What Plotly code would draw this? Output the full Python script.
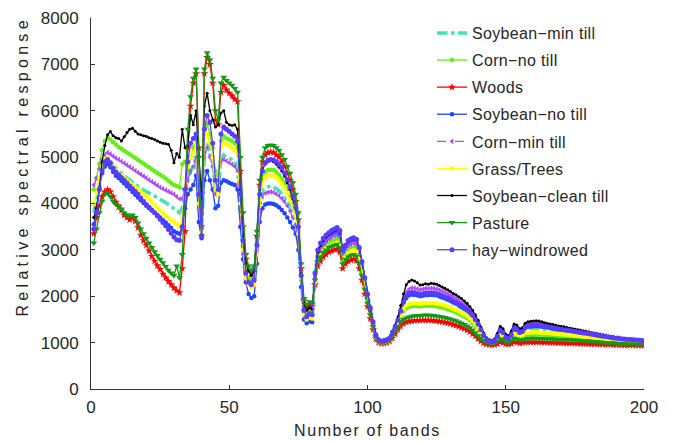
import plotly.graph_objects as go

bands = list(range(1, 201))

soybean_clean_till = [
3700,3900,4300,4900,5250,5480,5550,5460,5420,5400,
5350,5440,5530,5600,5620,5560,5500,5480,5460,5450,
5420,5400,5380,5350,5320,5300,5290,5280,5150,4880,
5080,5000,5600,5200,5250,5900,5700,6000,5000,4100,
6100,6380,6000,5800,5650,5700,5950,6000,5750,5700,
5680,5700,5600,4300,3300,2700,2550,2450,2550,3300,
4300,4750,4850,4900,4920,4900,4850,4780,4700,4600,
4450,4300,4100,3900,3500,2500,1850,1700,1750,1720,
2450,2950,3100,3200,3280,3330,3380,3420,3450,3400,
3000,3100,3200,3250,3270,3240,3050,2750,2400,2050,
1750,1450,1180,1080,1050,1060,1080,1120,1250,1380,
1550,1800,2050,2250,2320,2350,2330,2290,2240,2250,
2270,2260,2280,2270,2260,2230,2200,2170,2140,2100,
2060,2030,1990,1950,1900,1850,1780,1700,1600,1480,
1330,1200,1100,1060,1050,1080,1200,1350,1300,1180,
1150,1250,1400,1380,1300,1320,1420,1450,1460,1465,
1470,1465,1450,1430,1410,1400,1390,1375,1360,1350,
1340,1325,1310,1300,1290,1280,1265,1250,1240,1230,
1215,1200,1190,1175,1165,1155,1140,1130,1120,1110,
1100,1090,1085,1075,1070,1065,1060,1055,1050,1045]

pasture = [
3150,3450,3800,4050,4200,4230,4150,4050,3980,3950,
3880,3800,3760,3720,3750,3700,3580,3450,3350,3250,
3150,3050,2960,2880,2800,2720,2640,2560,2500,2450,
2650,2400,2900,4300,5600,6300,6700,6900,5000,3300,
6900,7250,7100,6700,6000,5800,6600,6720,6650,6600,
6550,6480,6400,5000,3800,2900,2650,2550,2650,3400,
4500,5000,5200,5250,5260,5250,5200,5150,5050,4950,
4800,4650,4450,4200,3800,2700,1950,1820,1880,1850,
2350,2750,2850,2950,3000,3050,3080,3100,3120,3050,
2700,2800,2850,2880,2900,2870,2700,2450,2150,1850,
1600,1350,1120,1030,1010,1015,1030,1060,1150,1250,
1350,1450,1500,1530,1550,1570,1580,1585,1580,1590,
1595,1590,1590,1585,1575,1565,1555,1540,1525,1510,
1490,1470,1445,1420,1390,1360,1320,1270,1210,1150,
1090,1040,1010,1000,995,1000,1030,1080,1060,1020,
1010,1040,1090,1080,1050,1060,1080,1090,1095,1095,
1095,1090,1090,1085,1085,1080,1080,1075,1070,1070,
1065,1060,1060,1055,1050,1050,1045,1040,1040,1035,
1030,1025,1020,1015,1010,1005,1000,995,990,985,
980,978,975,972,970,968,966,965,963,960]

woods = [
3350,3700,3950,4150,4250,4300,4250,4150,4030,3930,
3850,3750,3700,3650,3700,3620,3480,3320,3200,3100,
2980,2860,2760,2660,2580,2480,2400,2320,2250,2180,
2120,2080,2600,3400,5200,6100,6600,6800,5200,3500,
6800,7150,7000,6600,5800,5700,6400,6550,6450,6380,
6320,6250,6200,4700,3500,2800,2550,2500,2600,3300,
4400,4900,5050,5100,5110,5100,5050,5000,4900,4800,
4650,4500,4300,4050,3650,2600,1900,1760,1800,1780,
2250,2650,2750,2850,2900,2950,2980,3000,3020,2950,
2600,2700,2750,2780,2800,2770,2600,2350,2050,1780,
1520,1280,1080,1000,980,985,1000,1030,1100,1190,
1280,1360,1410,1440,1460,1470,1475,1480,1478,1482,
1485,1482,1480,1475,1468,1460,1450,1438,1425,1410,
1390,1370,1350,1325,1300,1270,1235,1190,1140,1085,
1030,990,965,955,950,955,975,1010,995,970,
960,980,1010,1005,990,995,1005,1010,1012,1012,
1012,1010,1008,1006,1004,1002,1000,998,996,994,
992,990,988,986,984,982,980,978,976,974,
972,970,968,966,964,962,960,958,956,954,
952,950,948,946,945,944,943,942,941,940]

hay_windrowed = [
3450,3800,4300,4700,4900,4950,4880,4760,4680,4620,
4560,4500,4440,4380,4320,4260,4200,4120,4050,3980,
3920,3860,3800,3730,3660,3590,3520,3440,3360,3280,
3220,3200,3500,4300,4900,5300,5400,5500,4200,3300,
5600,5900,5750,5300,4500,4300,5500,5650,5600,5550,
5500,5450,5350,4200,3200,2500,2300,2250,2350,3100,
4200,4700,4880,4930,4950,4940,4900,4840,4760,4660,
4520,4360,4150,3920,3500,2450,1700,1560,1620,1600,
2500,3000,3150,3250,3320,3370,3420,3450,3480,3420,
3000,3100,3200,3240,3260,3230,3050,2750,2400,2050,
1750,1450,1170,1060,1030,1040,1060,1100,1220,1340,
1480,1680,1880,2000,2060,2080,2075,2060,2040,2050,
2070,2065,2075,2070,2060,2040,2015,1990,1965,1935,
1900,1870,1835,1800,1760,1715,1660,1590,1500,1400,
1280,1160,1070,1030,1020,1040,1140,1260,1220,1110,
1090,1170,1300,1290,1220,1240,1330,1360,1370,1375,
1380,1375,1365,1350,1340,1330,1320,1310,1300,1290,
1280,1270,1260,1250,1240,1230,1220,1210,1200,1190,
1180,1170,1160,1150,1140,1130,1120,1110,1100,1095,
1090,1080,1075,1070,1065,1060,1055,1050,1045,1040]

soybean_no_till = [
3550,3900,4350,4650,4800,4850,4780,4680,4600,4550,
4490,4430,4370,4310,4250,4190,4130,4070,4010,3950,
3900,3850,3800,3750,3700,3640,3590,3530,3470,3400,
3370,3350,3500,3900,4200,4300,4400,4600,3600,3250,
4500,4700,4500,4300,3900,3950,4450,4500,4480,4450,
4420,4400,4300,3500,2800,2300,2050,1960,2000,2700,
3600,3900,3980,4000,4000,3990,3960,3920,3860,3790,
3700,3600,3480,3350,3000,2200,1500,1420,1460,1440,
2300,2850,3000,3120,3200,3260,3310,3350,3400,3350,
2950,3050,3150,3200,3220,3200,3020,2720,2380,2030,
1720,1420,1150,1050,1020,1030,1050,1090,1200,1320,
1460,1650,1840,1960,2020,2040,2035,2020,2005,2015,
2030,2025,2035,2030,2020,2000,1980,1955,1930,1900,
1870,1840,1805,1770,1730,1690,1635,1570,1480,1380,
1265,1150,1065,1025,1015,1035,1130,1240,1200,1100,
1080,1160,1280,1270,1200,1220,1310,1340,1350,1355,
1360,1355,1345,1335,1325,1315,1305,1295,1285,1275,
1265,1255,1245,1235,1225,1215,1205,1195,1185,1175,
1165,1155,1145,1135,1125,1115,1105,1098,1090,1085,
1080,1072,1066,1060,1055,1050,1045,1040,1035,1030]

corn_min_till = [
4400,4550,4750,4950,5050,5100,5070,5020,4980,4950,
4910,4870,4830,4790,4750,4710,4670,4630,4590,4550,
4510,4470,4430,4390,4350,4320,4290,4260,4230,4200,
4150,4100,4100,4300,4500,4700,4800,5000,3900,3300,
5000,5200,5000,4800,4200,4200,4900,4950,4920,4880,
4850,4800,4700,3800,2900,2350,2280,2300,2350,3000,
3850,4150,4220,4240,4250,4240,4210,4170,4110,4040,
3950,3840,3700,3540,3200,2350,1650,1580,1620,1600,
2400,2900,3020,3120,3190,3240,3280,3310,3330,3280,
2900,3000,3080,3120,3140,3120,2950,2670,2330,2000,
1700,1410,1150,1050,1025,1035,1055,1095,1220,1350,
1500,1720,1930,2080,2150,2180,2175,2160,2140,2150,
2170,2165,2175,2170,2160,2140,2115,2090,2060,2030,
1995,1960,1920,1880,1835,1790,1730,1655,1560,1440,
1310,1180,1085,1040,1030,1060,1170,1310,1260,1140,
1120,1210,1360,1340,1260,1280,1380,1410,1420,1425,
1430,1425,1410,1395,1380,1370,1360,1345,1335,1325,
1315,1300,1290,1280,1270,1255,1245,1235,1225,1215,
1200,1190,1180,1165,1155,1145,1130,1120,1110,1100,
1095,1085,1080,1070,1065,1060,1055,1050,1045,1040]

grass_trees = [
4000,4250,4550,4800,4950,5000,4900,4800,4720,4650,
4600,4550,4500,4450,4400,4350,4300,4250,4200,4150,
4090,4030,3970,3910,3850,3800,3740,3690,3640,3600,
3550,3500,3700,4300,4800,5000,5100,5300,4000,3400,
5300,5500,5300,5000,4300,4200,5200,5300,5280,5250,
5200,5150,5050,4000,3000,2400,2250,2200,2250,2900,
3950,4450,4560,4600,4610,4600,4560,4500,4420,4330,
4220,4080,3920,3730,3350,2400,1600,1500,1540,1520,
2300,2750,2880,2980,3040,3080,3110,3140,3160,3100,
2750,2850,2930,2970,2990,2970,2800,2530,2220,1900,
1620,1350,1110,1030,1005,1010,1030,1065,1170,1290,
1420,1590,1730,1800,1830,1845,1850,1845,1840,1848,
1855,1852,1855,1850,1842,1830,1815,1798,1778,1755,
1730,1705,1675,1645,1610,1572,1525,1465,1390,1300,
1200,1100,1040,1015,1005,1020,1090,1170,1140,1070,
1050,1100,1190,1180,1130,1145,1200,1215,1220,1222,
1222,1220,1215,1210,1205,1200,1195,1190,1185,1180,
1175,1170,1165,1158,1150,1143,1135,1128,1120,1112,
1105,1098,1090,1082,1075,1068,1060,1053,1046,1040,
1035,1030,1025,1020,1015,1010,1006,1003,1000,998]

corn_no_till = [
4300,4550,4850,5150,5350,5420,5380,5320,5270,5220,
5180,5140,5100,5060,5020,4980,4940,4900,4860,4820,
4780,4740,4700,4660,4620,4580,4540,4490,4440,4400,
4380,4350,4850,4900,4700,5000,5200,5400,4200,3500,
5500,5700,5500,5200,4700,4600,5350,5450,5400,5380,
5350,5300,5200,4100,3100,2500,2400,2380,2420,3100,
4100,4550,4680,4720,4730,4720,4680,4620,4540,4450,
4330,4180,4000,3800,3420,2450,1700,1640,1680,1660,
2350,2800,2920,3020,3080,3130,3170,3200,3230,3170,
2800,2900,2980,3020,3040,3020,2850,2580,2260,1930,
1650,1380,1130,1040,1015,1020,1040,1075,1180,1300,
1420,1560,1680,1740,1770,1785,1790,1785,1780,1788,
1795,1792,1795,1790,1782,1770,1756,1740,1720,1698,
1675,1650,1622,1592,1560,1525,1480,1425,1355,1270,
1175,1085,1030,1008,1000,1012,1070,1140,1110,1050,
1035,1080,1150,1140,1100,1110,1160,1170,1175,1176,
1176,1174,1170,1166,1162,1158,1154,1150,1146,1142,
1138,1133,1128,1122,1116,1110,1104,1098,1092,1086,
1080,1074,1068,1062,1056,1050,1045,1040,1035,1030,
1025,1020,1016,1012,1008,1004,1000,997,994,990]

soybean_min_till = [
3800,4100,4450,4750,4950,5000,4920,4820,4760,4700,
4650,4600,4550,4500,4450,4410,4370,4330,4290,4250,
4220,4190,4160,4130,4100,4060,4020,3980,3940,3880,
3840,3800,3900,4200,4500,4700,4800,5000,3900,3300,
5050,5300,5100,4900,4300,4250,4950,5050,5000,4980,
4950,4900,4800,3800,2900,2350,2300,2320,2380,3050,
3950,4280,4340,4360,4370,4360,4330,4280,4210,4130,
4030,3910,3760,3580,3230,2350,1620,1560,1600,1580,
2380,2880,3000,3100,3170,3220,3260,3290,3310,3260,
2880,2980,3060,3100,3120,3100,2930,2650,2310,1980,
1690,1400,1140,1045,1020,1030,1050,1090,1210,1330,
1470,1670,1860,1960,2000,2020,2015,2005,1990,2000,
2015,2010,2018,2012,2002,1985,1962,1938,1912,1882,
1852,1820,1786,1750,1712,1672,1620,1555,1470,1370,
1255,1140,1060,1022,1012,1030,1120,1225,1185,1090,
1070,1140,1250,1240,1180,1200,1280,1300,1305,1308,
1310,1305,1296,1288,1280,1272,1264,1256,1248,1240,
1232,1224,1216,1208,1200,1192,1184,1176,1168,1160,
1152,1144,1136,1128,1120,1112,1104,1096,1090,1084,
1078,1072,1066,1060,1055,1050,1045,1040,1035,1030]

series_names = ["Soybean\u2212min till", "Corn\u2212no till", "Woods", "Soybean\u2212no till",
                "Corn\u2212min till", "Grass/Trees", "Soybean\u2212clean till", "Pasture", "hay\u2212windrowed"]
series_values = [soybean_min_till, corn_no_till, woods, soybean_no_till,
                 corn_min_till, grass_trees, soybean_clean_till, pasture, hay_windrowed]
colors = ["#3fe6b4", "#66ee11", "#ff0000", "#1f45ff", "#b048ff", "#ffff00", "#000000", "#119a11", "#5a3cff"]
dashes = ["dashdot", "solid", "solid", "solid", "dash", "solid", "solid", "solid", "solid"]
widths = [3.5, 1.3, 1.3, 1.3, 1.3, 1.3, 1.3, 1.3, 1.3]
symbols = ["circle", "circle", "star", "circle", "triangle-left", "circle", "circle", "triangle-down", "circle"]
msizes = [2, 4.5, 6, 4.5, 5, 4.5, 3, 6, 5]

FONT = "Liberation Sans, Arial, Helvetica, sans-serif"
TXT = "#262626"

fig = go.Figure()
for i, (nm, vals) in enumerate(zip(series_names, series_values)):
    fig.add_trace(go.Scatter(
        x=bands, y=vals,
        name='<span style="letter-spacing:0.35px">' + nm + '</span>',
        mode="lines+markers" if i != 0 else "lines",
        legendgroup="g%d" % i,
        line=dict(color=colors[i], width=widths[i], dash=dashes[i]),
        marker=dict(symbol=symbols[i], size=msizes[i], color=colors[i], line=dict(width=0)),
    ))

# page body has an 8px margin, so the figure is sized 8px smaller and margins shifted
fig.update_layout(
    width=669, height=433,
    margin=dict(l=83, r=33, t=10, b=52, autoexpand=False),
    paper_bgcolor="white", plot_bgcolor="white",
    font=dict(family=FONT, size=17, color=TXT),
    showlegend=True,
    legend=dict(x=0.6166, y=0.3288, xanchor="left", yanchor="bottom",
                bgcolor="rgba(255,255,255,0)", borderwidth=0,
                font=dict(family=FONT, size=16, color=TXT),
                tracegroupgap=3.3, traceorder="grouped"),
    xaxis=dict(range=[0, 200], tickvals=[0, 50, 100, 150, 200], ticks="inside", ticklen=4,
               showline=True, linecolor="#333333", linewidth=1, showgrid=False, zeroline=False,
               tickcolor="#333333", ticklabelstandoff=3),
    yaxis=dict(range=[0, 8000], dtick=1000, ticks="inside", ticklen=4,
               showline=True, linecolor="#333333", linewidth=1, showgrid=False, zeroline=False,
               tickcolor="#333333", ticklabelstandoff=8),
    annotations=[
        dict(text='<span style="letter-spacing:1.6px">Number of bands</span>',
             xref="paper", yref="paper", x=0.5, y=0, yshift=-41,
             showarrow=False, xanchor="center", yanchor="middle", font=dict(size=16)),
        dict(text='<span style="letter-spacing:4.3px">Relative spectral response</span>',
             xref="paper", yref="paper", x=0, y=0.5, xshift=-69, yshift=37,
             showarrow=False, textangle=-90, xanchor="center", yanchor="middle", font=dict(size=16)),
    ],
)

fig.write_html("out.html")
